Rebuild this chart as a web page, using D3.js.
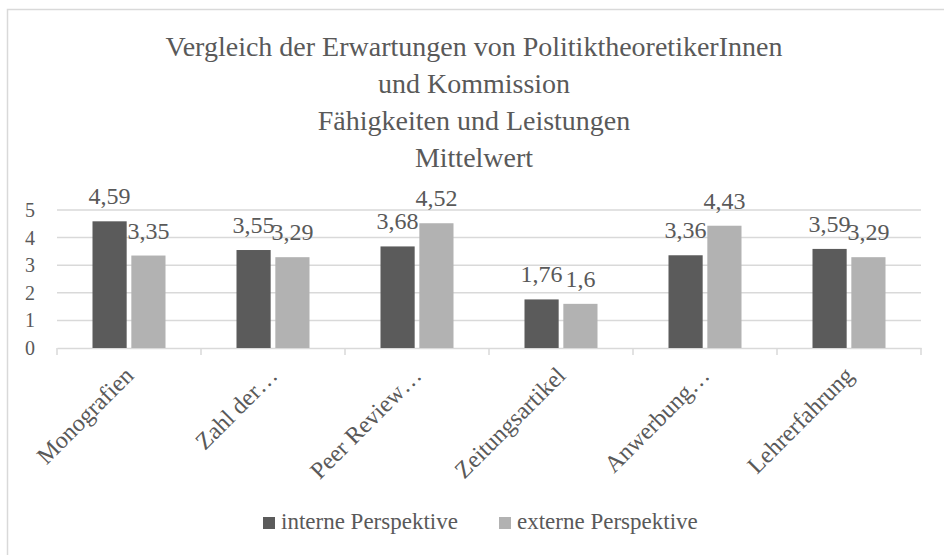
<!DOCTYPE html>
<html>
<head>
<meta charset="utf-8">
<script src="https://cdn.jsdelivr.net/npm/d3@7"></script>
<style>
  body { margin: 0; background: #fff; }
</style>
</head>
<body>
<div id="chart"></div>
<script>
var categories = ["Monografien", "Zahl der…", "Peer Review…", "Zeitungsartikel", "Anwerbung…", "Lehrerfahrung"];
var intern = [4.59, 3.55, 3.68, 1.76, 3.36, 3.59];
var extern = [3.35, 3.29, 4.52, 1.6, 4.43, 3.29];
var seriesNames = ["interne Perspektive", "externe Perspektive"];
var titleLines = ["Vergleich der Erwartungen von PolitiktheoretikerInnen", "und Kommission", "Fähigkeiten und Leistungen", "Mittelwert"];
var yTicks = [0, 1, 2, 3, 4, 5];

var W = 944, H = 555;
var margin = {top: 210, right: 23, bottom: 207, left: 57};
var width = W - margin.left - margin.right,
    height = H - margin.top - margin.bottom;
var colors = ["#5b5b5b", "#b2b2b2"];
var FONT = "'Liberation Serif', 'Times New Roman', Times, 'DejaVu Serif', serif";

var svg = d3.select("#chart").append("svg")
    .attr("width", W)
    .attr("height", H)
    .style("font-family", FONT);

// chart border (cut off on the right and bottom)
svg.append("rect")
    .attr("x", 7.5).attr("y", 9.5)
    .attr("width", W + 10).attr("height", H + 10)
    .style("fill", "none")
    .style("stroke", "#d9d9d9")
    .style("stroke-width", 1.5);

// title
svg.append("g").selectAll("text")
    .data(titleLines)
    .enter().append("text")
    .attr("x", 474)
    .attr("y", function (d, i) { return 56 + i * 37; })
    .attr("text-anchor", "middle")
    .style("font-family", FONT)
    .style("fill", "#595959")
    .style("font-size", "28px")
    .text(function (d) { return d; });

var g = svg.append("g")
    .attr("transform", "translate(" + margin.left + "," + margin.top + ")");

var x0 = d3.scaleBand()
    .domain(categories)
    .range([0, width]);

var x1 = d3.scaleBand()
    .domain([0, 1])
    .range([0, 73])
    .paddingInner(0.12);

var y = d3.scaleLinear()
    .domain([0, 5])
    .range([height, 0]);

// gridlines
g.append("g").selectAll("line")
    .data(yTicks.slice(1))
    .enter().append("line")
    .attr("x1", 0).attr("x2", width)
    .attr("y1", function (d) { return y(d); })
    .attr("y2", function (d) { return y(d); })
    .style("stroke", "#d9d9d9")
    .style("stroke-width", 1.5);

// y axis labels
var yAxis = d3.axisLeft(y).tickValues(yTicks).tickFormat(d3.format("d")).tickSize(0).tickPadding(22);
var gy = g.append("g").call(yAxis);
gy.select(".domain").remove();
gy.selectAll("text")
    .style("font-family", FONT)
    .style("fill", "#595959")
    .style("font-size", "20px");

// x axis
var xAxis = d3.axisBottom(x0).tickSize(0).tickFormat("");
var gx = g.append("g")
    .attr("transform", "translate(0," + height + ")")
    .call(xAxis);
gx.select(".domain").style("stroke", "#d9d9d9").style("stroke-width", 1.5);
gx.selectAll(".tick").remove();

var bounds = categories.map(function (c) { return x0(c); }).concat([width]);
gx.selectAll(".sep")
    .data(bounds)
    .enter().append("line")
    .attr("class", "sep")
    .attr("x1", function (d) { return d; })
    .attr("x2", function (d) { return d; })
    .attr("y1", 0).attr("y2", 7)
    .style("stroke", "#d9d9d9")
    .style("stroke-width", 1.5);

gx.selectAll(".xl")
    .data(categories)
    .enter().append("text")
    .attr("class", "xl")
    .attr("text-anchor", "end")
    .attr("transform", function (d) {
        return "translate(" + (x0(d) + x0.bandwidth() / 2 + 6) + ",29) rotate(-45)";
    })
    .style("font-family", FONT)
    .style("fill", "#595959")
    .style("font-size", "24px")
    .text(function (d) { return d; });

// bars
var groups = g.selectAll(".grp")
    .data(categories)
    .enter().append("g")
    .attr("class", "grp")
    .attr("transform", function (d) {
        return "translate(" + (x0(d) + x0.bandwidth() / 2 - 36.5) + ",0)";
    });

[intern, extern].forEach(function (vals, s) {
    groups.append("rect")
        .attr("x", x1(s))
        .attr("width", x1.bandwidth())
        .attr("y", function (d, i) { return y(vals[i]); })
        .attr("height", function (d, i) { return height - y(vals[i]); })
        .style("fill", colors[s]);

    groups.append("text")
        .attr("x", x1(s) + x1.bandwidth() / 2)
        .attr("y", function (d, i) { return y(vals[i]) - 17; })
        .attr("text-anchor", "middle")
        .style("font-family", FONT)
        .style("fill", "#595959")
        .style("font-size", "24px")
        .text(function (d, i) { return String(vals[i]).replace(".", ","); });
});

// legend
var legendX = [263, 499];
var legend = svg.append("g").selectAll("g")
    .data(seriesNames)
    .enter().append("g")
    .attr("transform", function (d, i) { return "translate(" + legendX[i] + ",517)"; });

legend.append("rect")
    .attr("width", 12).attr("height", 12)
    .style("fill", function (d, i) { return colors[i]; });

legend.append("text")
    .attr("x", 18)
    .attr("y", 12)
    .style("font-family", FONT)
    .style("fill", "#595959")
    .style("font-size", "23px")
    .text(function (d) { return d; });
</script>
</body>
</html>
